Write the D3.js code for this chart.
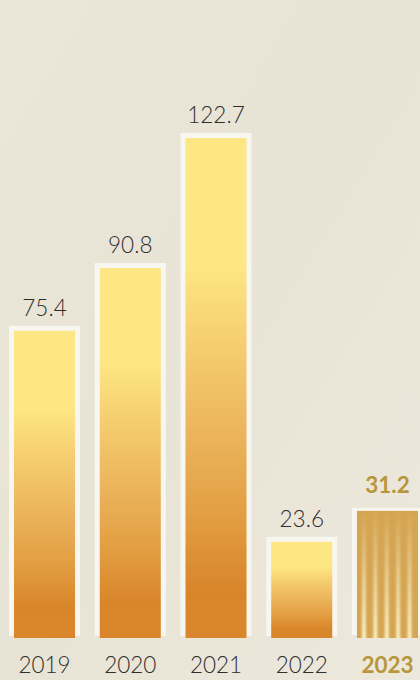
<!DOCTYPE html>
<html>
<head>
<meta charset="utf-8">
<script src="https://cdn.jsdelivr.net/npm/d3@7"></script>
<style>
  html, body { margin: 0; padding: 0; background: #ebe6d8; }
  svg { display: block; }
</style>
</head>
<body>
<script>
const width = 420;
const height = 680;

const years = ["2019", "2020", "2021", "2022", "2023"];
const values = [75.4, 90.8, 122.7, 23.6, 31.2];
const highlight = [false, false, false, false, true];

const BASE_Y = 638;
const TOP_Y = 138;
const FONT = "Lato, 'Open Sans', 'DejaVu Sans', sans-serif";

const data = years.map(function (y, i) {
	return { year: y, value: values[i], hi: highlight[i] };
});

const svg = d3.select("body")
	.append("svg")
	.attr("width", width)
	.attr("height", height);

const defs = svg.append("defs");

// background
const bg = defs.append("linearGradient")
	.attr("id", "bg")
	.attr("x1", 0).attr("y1", 0).attr("x2", 1).attr("y2", 1);
bg.append("stop").attr("offset", 0).attr("stop-color", "#ebe6d8");
bg.append("stop").attr("offset", 0.5).attr("stop-color", "#e8e4d5");
bg.append("stop").attr("offset", 1).attr("stop-color", "#ede8dc");

// bar fill: yellow on top, orange at the base
const barGrad = defs.append("linearGradient")
	.attr("id", "barGrad")
	.attr("x1", 0).attr("y1", 0).attr("x2", 0).attr("y2", 1);
[
	[0, "#fde684"],
	[0.26, "#fde684"],
	[0.4, "#f6cf72"],
	[0.58, "#ecb65e"],
	[0.75, "#e39f43"],
	[0.9, "#d9862b"],
	[1, "#da862c"]
].forEach(function (s) {
	barGrad.append("stop").attr("offset", s[0]).attr("stop-color", s[1]);
});

// light stripes of the highlighted bar
const stripeGrad = defs.append("linearGradient")
	.attr("id", "stripeGrad")
	.attr("x1", 0).attr("y1", 0).attr("x2", 0).attr("y2", 1);
stripeGrad.append("stop").attr("offset", 0).attr("stop-color", "#fbf3c8").attr("stop-opacity", 0);
stripeGrad.append("stop").attr("offset", 0.5).attr("stop-color", "#fbf3c8").attr("stop-opacity", 0.5);
stripeGrad.append("stop").attr("offset", 1).attr("stop-color", "#fbf3c8").attr("stop-opacity", 0.95);

defs.append("filter")
	.attr("id", "soft")
	.attr("x", "-50%").attr("width", "200%")
	.append("feGaussianBlur")
	.attr("stdDeviation", "0.9 0");

svg.append("rect")
	.attr("width", width)
	.attr("height", height)
	.attr("fill", "url(#bg)");

const x = d3.scaleBand()
	.domain(years)
	.range([14, 418])
	.paddingInner(0.288)
	.paddingOuter(0);

const y = d3.scaleLinear()
	.domain([0, 122.7])
	.range([BASE_Y, TOP_Y]);

const bars = svg.selectAll("g.bar")
	.data(data)
	.enter()
	.append("g")
	.attr("class", "bar");

// white frame behind each bar
bars.append("rect")
	.attr("x", function (d) { return x(d.year) - 5; })
	.attr("y", function (d) { return y(d.value) - (d.hi ? 3 : 5); })
	.attr("width", x.bandwidth() + 10)
	.attr("height", function (d) { return BASE_Y - y(d.value) + (d.hi ? 0 : 3); })
	.attr("fill", "#f8f6f0");

bars.append("rect")
	.attr("x", function (d) { return x(d.year); })
	.attr("y", function (d) { return y(d.value); })
	.attr("width", x.bandwidth())
	.attr("height", function (d) { return BASE_Y - y(d.value); })
	.attr("fill", function (d) { return d.hi ? "#d5a553" : "url(#barGrad)"; });

// stripes on the highlighted bar
bars.filter(function (d) { return d.hi; })
	.each(function (d) {
		const g = d3.select(this);
		const x0 = x(d.year);
		const xs = d3.range(x0 + 7, x0 + x.bandwidth() - 4, 11.4);
		g.selectAll("rect.stripe")
			.data(xs)
			.enter()
			.append("rect")
			.attr("class", "stripe")
			.attr("x", function (s) { return s - 2; })
			.attr("y", y(d.value))
			.attr("width", 4)
			.attr("height", BASE_Y - y(d.value))
			.attr("fill", "url(#stripeGrad)")
			.attr("filter", "url(#soft)");
	});

// value labels
bars.append("text")
	.attr("x", function (d) { return x(d.year) + x.bandwidth() / 2; })
	.attr("y", function (d) { return y(d.value) - (d.hi ? 18 : 15); })
	.attr("text-anchor", "middle")
	.attr("font-family", FONT)
	.attr("font-size", "22.5px")
	.attr("font-weight", function (d) { return d.hi ? 700 : 300; })
	.attr("fill", function (d) { return d.hi ? "#b8963c" : "#2e2e2e"; })
	.text(function (d) { return d.value.toFixed(1); });

// year labels
bars.append("text")
	.attr("x", function (d) { return x(d.year) + x.bandwidth() / 2; })
	.attr("y", 673)
	.attr("text-anchor", "middle")
	.attr("font-family", FONT)
	.attr("font-size", "22.5px")
	.attr("font-weight", function (d) { return d.hi ? 700 : 300; })
	.attr("fill", function (d) { return d.hi ? "#b8963c" : "#2e2e2e"; })
	.text(function (d) { return d.year; });
</script>
</body>
</html>
